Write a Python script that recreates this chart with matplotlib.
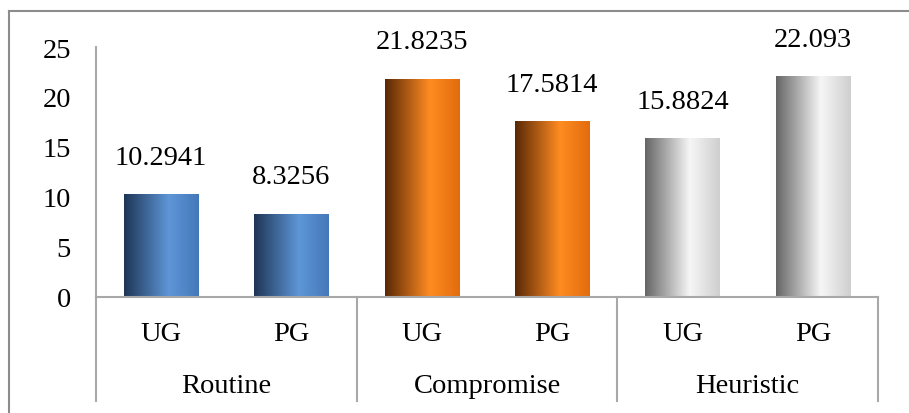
import numpy as np
import matplotlib
matplotlib.use("Agg")
import matplotlib.pyplot as plt
from matplotlib.colors import LinearSegmentedColormap
from matplotlib.lines import Line2D

groups = ["Routine", "Compromise", "Heuristic"]
levels = ["UG", "PG"]
values = [10.2941, 8.3256, 21.8235, 17.5814, 15.8824, 22.093]
value_labels = ["10.2941", "8.3256", "21.8235", "17.5814", "15.8824", "22.093"]

# cylinder-like shading per group: (left edge, highlight, right edge)
shades = [
    ("#1e3656", "#5e96d8", "#4578b8"),
    ("#5a2806", "#ff8c22", "#e26c0c"),
    ("#666666", "#f6f6f6", "#cfcfcf"),
]

plt.rcParams["font.family"] = ["Liberation Serif", "DejaVu Serif"]
FS = 20.5

fig = plt.figure(figsize=(9.09, 4.14), dpi=100)
ax = fig.add_axes([96 / 909, 116 / 414, (878 - 96) / 909, 250 / 414])

x = np.arange(len(values))
bars = ax.bar(x, values, width=0.57, color="none", edgecolor="none")

for i, rect in enumerate(bars):
    c0, c1, c2 = shades[i // 2]
    cmap = LinearSegmentedColormap.from_list("cyl", [(0, c0), (0.6, c1), (1, c2)])
    grad = np.linspace(0, 1, 200).reshape(1, -1)
    x0, w, h = rect.get_x(), rect.get_width(), rect.get_height()
    im = ax.imshow(grad, cmap=cmap, aspect="auto",
                   extent=(x0, x0 + w, 0, h), zorder=2)
    im.set_clip_path(rect)
    ax.annotate(value_labels[i], (x[i], values[i]), xytext=(0, 22),
                textcoords="offset points", ha="center", va="baseline",
                fontsize=FS)

ax.set_xlim(-0.5, len(values) - 0.5)
ax.set_ylim(0, 25)
ax.set_yticks([0, 5, 10, 15, 20, 25])
ax.tick_params(axis="y", length=0, pad=18, labelsize=FS)
ax.set_xticks([])
for s in ("top", "right"):
    ax.spines[s].set_visible(False)
for s in ("left", "bottom"):
    ax.spines[s].set_color("#a8a8a8")
    ax.spines[s].set_linewidth(1.5)

trans = ax.get_xaxis_transform()
for i in range(len(values)):
    ax.text(x[i], -0.145, levels[i % 2], transform=trans, ha="center",
            va="center", fontsize=FS)
for g, name in enumerate(groups):
    ax.text(2 * g + 0.5, -0.355, name, transform=trans, ha="center",
            va="center", fontsize=FS)
for b in [-0.5, 1.5, 3.5, 5.5]:
    ax.plot([b, b], [0, -0.416], transform=trans, color="#a8a8a8",
            lw=1.5, clip_on=False)

# outer frame (left and top edges visible)
fig.add_artist(Line2D([9 / 909, 9 / 909], [0, 1 - 12 / 414],
                      transform=fig.transFigure, color="#8c8c8c", lw=1.5))
fig.add_artist(Line2D([9 / 909, 1], [1 - 12 / 414, 1 - 12 / 414],
                      transform=fig.transFigure, color="#8c8c8c", lw=1.5))

fig.savefig("out.png", dpi=100)
